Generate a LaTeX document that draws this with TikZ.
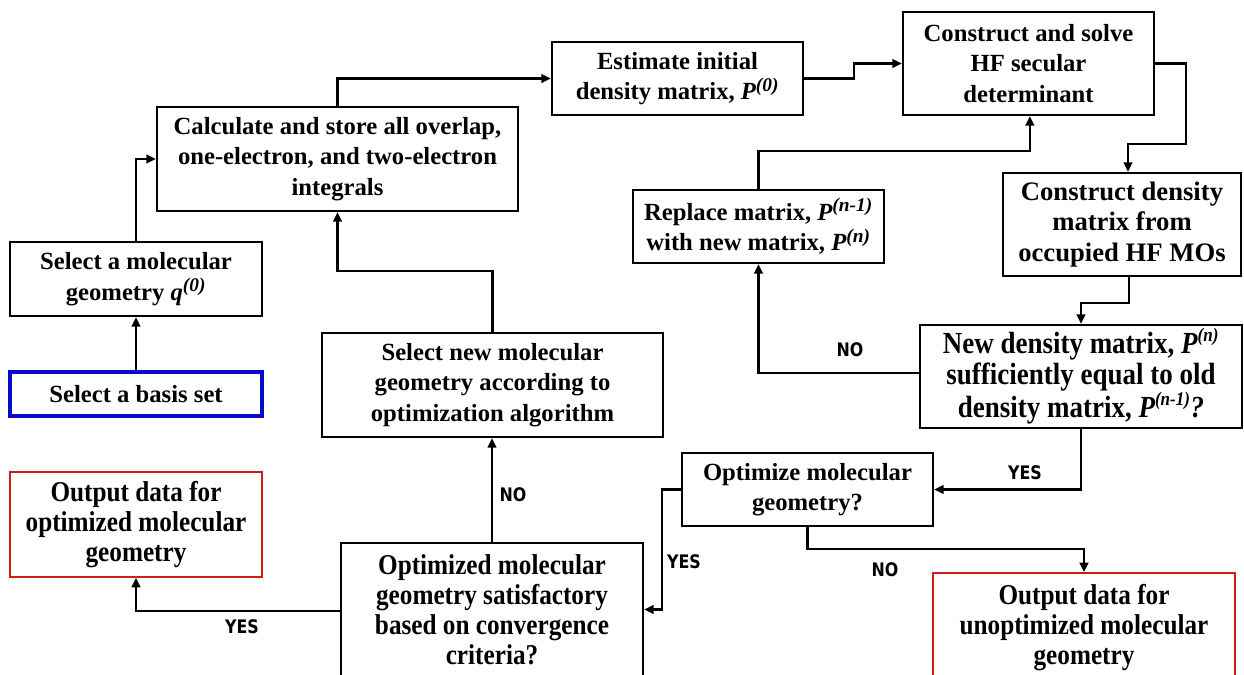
\documentclass[tikz,border=0pt]{standalone}
\usepackage{fontspec}
\setmainfont{Liberation Serif}
\newfontfamily\condfont{Liberation Serif}[FakeStretch=0.88]
\newfontfamily\labfont{DejaVu Sans}[FakeStretch=0.85]
\usetikzlibrary{arrows.meta,calc}
\newcommand{\Psup}[1]{{\itshape P\textsuperscript{\fontsize{14.5}{14.5}\selectfont #1}}}
\newcommand{\qsup}[1]{{\itshape q\textsuperscript{\fontsize{14.5}{14.5}\selectfont #1}}}
\definecolor{boxred}{RGB}{205,30,30}
\definecolor{boxblue}{RGB}{10,10,205}
\tikzset{
  wh/.style 2 args={minimum width=#1*0.75pt, minimum height=#2*0.75pt},
  box/.style={draw, line width=1.9pt, inner sep=0pt, align=center,
    font=\fontsize{18.5}{23}\selectfont\bfseries},
  cbox/.style={box, font=\condfont\fontsize{21.5}{22.5}\selectfont\bfseries},
  redbox/.style={line width=1.4pt, draw=boxred},
  bluebox/.style={line width=2.3pt, draw=boxblue},
  arr/.style={line width=1.6pt, -{Triangle[length=7pt,width=6.5pt]}},
  lab/.style={font=\labfont\bfseries\fontsize{14}{16}\selectfont, inner sep=0pt}
}
\begin{document}
\begin{tikzpicture}[x=0.75pt,y=-0.75pt]
\useasboundingbox (0,0) rectangle (1244,674);
% boxes
\node[box,bluebox,wh={252}{44}] (basis) at (136,394) {Select a basis set};
\node[box,wh={252}{74}] (geom) at (136,279) {Select a molecular\\geometry \qsup{(0)}};
\node[box,wh={361}{104}] (calc) at (337.5,159) {Calculate and store all overlap,\\one-electron, and two-electron\\integrals};
\node[box,wh={251}{73}] (est) at (677.5,78.5) {Estimate initial\\density matrix, \Psup{(0)}};
\node[box,wh={251}{103}] (hf) at (1028.5,63.5) {Construct and solve\\HF secular\\determinant};
\node[box,wh={251}{73}] (repl) at (758.5,226.5) {Replace matrix, \Psup{(n-1)}\\with new matrix, \Psup{(n)}};
\node[box,font=\fontsize{20}{23}\selectfont\bfseries,wh={238}{103}] (cdens) at (1122,224.5) {Construct density\\matrix from\\occupied HF MOs};
\node[cbox,font=\condfont\fontsize{23}{23}\selectfont\bfseries,wh={322}{103}] (ndens) at (1081,376.5) {New density matrix, \Psup{(n)}\\sufficiently equal to old\\density matrix, \Psup{(n-1)}\textit{?}};
\node[box,wh={341}{104}] (selnew) at (492.5,385) {Select new molecular\\geometry according to\\optimization algorithm};
\node[box,wh={251}{73}] (optq) at (807.5,489.5) {Optimize molecular\\geometry?};
\node[cbox,redbox,wh={252}{105}] (outopt) at (136,524.5) {Output data for\\optimized molecular\\geometry};
\node[cbox,wh={302}{133}] (optimized) at (492,609.5) {Optimized molecular\\geometry satisfactory\\based on convergence\\criteria?};
\node[cbox,redbox,wh={302}{110}] (outunopt) at (1084,628) {Output data for\\unoptimized molecular\\geometry};
% connectors
\draw[arr] (basis) -- (geom);
\draw[arr] (geom.north) |- (calc.west);
\draw[arr] (calc.north) |- (est.west);
\draw[arr] (est.east) -- ++(50,0) |- (hf.west);
\draw[arr] (hf.east) -- ++(31,0) -- ++(0,80.5) -| ([xshift=4.5pt]cdens.north);
\draw[arr] ([xshift=5.25pt]cdens.south) -- ++(0,26) -| (ndens.north);
\draw[arr] ([yshift=2.6pt]ndens.west) -| (repl.south);
\draw[arr] (repl.north) -- ++(0,-38) -| ([xshift=1pt]hf.south);
\draw[arr] (ndens.south) |- (optq.east);
\draw[arr] (optq.south) -- ++(0,22) -| (outunopt.north);
\draw[arr] (optq.west) -- ++(-19,0) |- (optimized.east);
\draw[arr] ([yshift=-1pt]optimized.west) -| (outopt.south);
\draw[arr] (optimized.north) -- (optimized.north |- selnew.south);
\draw[arr] (selnew.north) -- ++(0,-61) -| (calc.south);
% labels
\node[lab] (no1) at (850,350) {NO};
\node[lab] (yes1) at (1025,473) {YES};
\node[lab] (no2) at (885,570) {NO};
\node[lab] (yes2) at (684,562) {YES};
\node[lab] (yes3) at (242,627) {YES};
\node[lab] (no3) at (513,495) {NO};
\end{tikzpicture}
\end{document}
